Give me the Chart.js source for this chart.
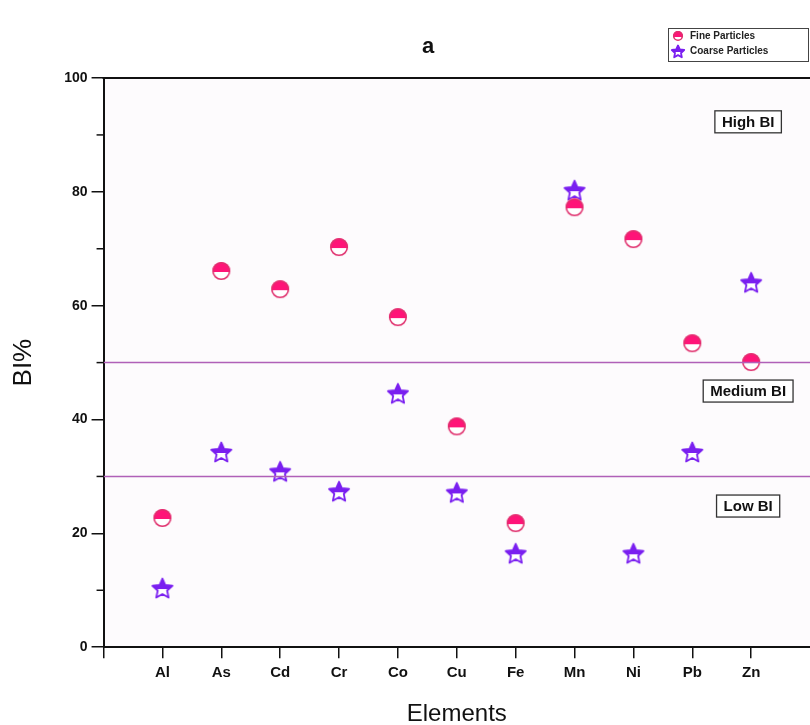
<!DOCTYPE html>
<html>
<head>
<meta charset="utf-8">
<script src="https://cdn.jsdelivr.net/npm/chart.js@4.4.0/dist/chart.umd.min.js"></script>
<style>
  html, body { margin: 0; padding: 0; background: #ffffff; }
  #wrap { width: 810px; height: 725px; }
</style>
</head>
<body>
<div id="wrap"><canvas id="myChart" width="810" height="725"></canvas></div>
<script>
// data
const elements = ["Al", "As", "Cd", "Cr", "Co", "Cu", "Fe", "Mn", "Ni", "Pb", "Zn"];
const fine = [22.7, 66.1, 62.9, 70.3, 58.0, 38.8, 21.8, 77.3, 71.7, 53.4, 50.1];
const coarse = [10.4, 34.3, 30.9, 27.4, 44.6, 27.2, 16.5, 80.3, 16.5, 34.3, 64.1];
const yTicks = [0, 20, 40, 60, 80, 100];
const thresholds = [50, 30];

const pink = "#ff1478";
const purple = "#7a1ff0";
const lineColor = "#b060b8";

// half filled circle marker
function makeCircle(r) {
  const c = document.createElement("canvas");
  const s = r * 2 + 4;
  c.width = s; c.height = s;
  const g = c.getContext("2d");
  const m = s / 2;
  g.beginPath(); g.arc(m, m, r, 0, Math.PI * 2);
  g.fillStyle = "#fff"; g.fill();
  g.save(); g.beginPath(); g.rect(0, 0, s, m + 1); g.clip();
  g.beginPath(); g.arc(m, m, r, 0, Math.PI * 2);
  g.fillStyle = pink; g.fill(); g.restore();
  g.beginPath(); g.arc(m, m, r - 0.7, 0, Math.PI * 2);
  g.lineWidth = 1.6; g.strokeStyle = "#e0306e"; g.stroke();
  return c;
}

function starPath(g, cx, cy, ro, ri) {
  g.beginPath();
  for (let i = 0; i < 10; i++) {
    const r = i % 2 === 0 ? ro : ri;
    const a = -Math.PI / 2 + i * Math.PI / 5;
    const px = cx + r * Math.cos(a), py = cy + r * Math.sin(a);
    if (i === 0) g.moveTo(px, py); else g.lineTo(px, py);
  }
  g.closePath();
}

// half filled star marker
function makeStar(r) {
  const c = document.createElement("canvas");
  const s = r * 2 + 4;
  c.width = s; c.height = s;
  const g = c.getContext("2d");
  const m = s / 2;
  starPath(g, m, m + 1, r, r * 0.45);
  g.fillStyle = "#fff"; g.fill();
  g.save(); g.beginPath(); g.rect(0, 0, s, m + 1); g.clip();
  starPath(g, m, m + 1, r, r * 0.45);
  g.fillStyle = purple; g.fill(); g.restore();
  starPath(g, m, m + 1, r - 0.5, r * 0.45);
  g.lineWidth = 1.8; g.strokeStyle = purple; g.lineJoin = "round"; g.stroke();
  return c;
}

const circleImg = makeCircle(9);
const starImg = makeStar(11);
const circleSmall = makeCircle(5);
const starSmall = makeStar(7);

const bgPlugin = {
  id: "bg",
  beforeDraw(chart) {
    const { ctx, chartArea: a } = chart;
    ctx.save();
    ctx.fillStyle = "#fdfbfd";
    ctx.fillRect(a.left, a.top, a.right - a.left, a.bottom - a.top);
    ctx.restore();
  },
  afterDraw(chart) {
    const { ctx, chartArea: a, scales } = chart;
    const y = scales.y;
    ctx.save();
    // top frame
    ctx.strokeStyle = "#111"; ctx.lineWidth = 2;
    ctx.beginPath(); ctx.moveTo(a.left - 1, a.top); ctx.lineTo(a.right, a.top); ctx.stroke();
    // minor ticks
    ctx.lineWidth = 1.5;
    for (let v = 10; v < 100; v += 20) {
      const py = y.getPixelForValue(v);
      ctx.beginPath(); ctx.moveTo(a.left - 7, py); ctx.lineTo(a.left, py); ctx.stroke();
    }
    // title
    ctx.fillStyle = "#111";
    ctx.font = "bold 22px 'Liberation Sans', Arial, sans-serif";
    ctx.textAlign = "center"; ctx.textBaseline = "middle";
    ctx.fillText("a", 428, 47);
    // zone labels
    const boxes = [["High BI", 92.3], ["Medium BI", 45], ["Low BI", 24.8]];
    ctx.font = "bold 15px 'Liberation Sans', Arial, sans-serif";
    const bx = chart.scales.x.getPixelForValue(11) - 3;
    boxes.forEach(([t, v]) => {
      const py = y.getPixelForValue(v);
      const w = ctx.measureText(t).width + 14;
      ctx.fillStyle = "#fff";
      ctx.fillRect(bx - w / 2, py - 11, w, 22);
      ctx.strokeStyle = "#333"; ctx.lineWidth = 1.3;
      ctx.strokeRect(bx - w / 2, py - 11, w, 22);
      ctx.fillStyle = "#111";
      ctx.fillText(t, bx, py + 1);
    });
    // legend
    ctx.fillStyle = "#fff";
    ctx.fillRect(668, 28, 140, 33);
    ctx.strokeStyle = "#444"; ctx.lineWidth = 1;
    ctx.strokeRect(668.5, 28.5, 140, 33);
    ctx.drawImage(circleSmall, 678 - circleSmall.width / 2, 36 - circleSmall.height / 2);
    ctx.drawImage(starSmall, 678 - starSmall.width / 2, 51 - starSmall.height / 2);
    ctx.font = "bold 10px 'Liberation Sans', Arial, sans-serif";
    ctx.textAlign = "left";
    ctx.fillStyle = "#222";
    ctx.fillText("Fine Particles", 690, 36);
    ctx.fillText("Coarse Particles", 690, 51);
    ctx.restore();
  }
};

const datasets = [
  {
    label: "Fine Particles",
    data: elements.map((e, i) => ({ x: i + 1, y: fine[i] })),
    pointStyle: circleImg,
    pointRadius: 9
  },
  {
    label: "Coarse Particles",
    data: elements.map((e, i) => ({ x: i + 1, y: coarse[i] })),
    pointStyle: starImg,
    pointRadius: 10
  }
];
thresholds.forEach((t) => {
  datasets.unshift({
    label: "limit " + t,
    data: [{ x: 0, y: t }, { x: 12, y: t }],
    showLine: true,
    borderColor: lineColor,
    borderWidth: 1.5,
    pointRadius: 0
  });
});

const ctx = document.getElementById("myChart");
new Chart(ctx, {
  type: "scatter",
  data: { datasets: datasets },
  plugins: [bgPlugin],
  options: {
    responsive: false,
    animation: false,
    layout: { autoPadding: false, padding: { top: 78, right: 0, left: 8, bottom: -4 } },
    plugins: {
      legend: { display: false },
      title: { display: false },
      tooltip: { enabled: false }
    },
    scales: {
      x: {
        type: "linear",
        min: 0,
        max: 12,
        afterBuildTicks: (s) => { s.ticks = Array.from({ length: 13 }, (_, i) => ({ value: i })); },
        afterFit: (s) => { s.paddingRight = 0; s.paddingLeft = 0; },
        ticks: {
          autoSkip: false,
          maxRotation: 0,
          padding: 6,
          color: "#111",
          font: { family: "'Liberation Sans Narrow', 'Liberation Sans', Arial", size: 15, weight: "bold" },
          callback: (v) => (v >= 1 && v <= 11 ? elements[v - 1] : "")
        },
        grid: {
          drawOnChartArea: false,
          tickLength: 11,
          color: (c) => (c.tick && c.tick.value === 12 ? "rgba(0,0,0,0)" : "#111"),
          lineWidth: 1.5
        },
        border: { display: true, color: "#111", width: 2 },
        title: {
          display: true,
          text: "Elements",
          color: "#111",
          font: { family: "'Liberation Sans', Arial", size: 24 },
          padding: { top: 12, bottom: 0 }
        }
      },
      y: {
        min: 0,
        max: 100,
        afterBuildTicks: (s) => { s.ticks = yTicks.map((v) => ({ value: v })); },
        ticks: {
          padding: 4,
          color: "#111",
          font: { family: "'Liberation Sans', Arial", size: 14, weight: "bold" }
        },
        grid: { drawOnChartArea: false, tickLength: 12, color: "#111", lineWidth: 1.5 },
        border: { display: true, color: "#111", width: 2 },
        title: {
          display: true,
          text: "BI%",
          color: "#111",
          font: { family: "'Liberation Sans', Arial", size: 26 },
          padding: { top: 0, bottom: 21 }
        }
      }
    }
  }
});
</script>
</body>
</html>
